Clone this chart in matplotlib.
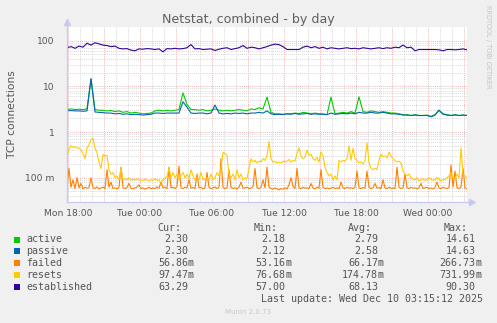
import numpy as np
import matplotlib
matplotlib.use('Agg')
import matplotlib.pyplot as plt
from matplotlib.patches import Rectangle

# temps en heures apres Mon 18:00 (echantillons 10 min / 20 min, fin Wed 03:15)
t10 = np.arange(201) / 6.0 - 1 / 12.0
t20 = np.arange(101) / 3.0 - 1 / 12.0

tick_hours = [0, 6, 12, 18, 24, 30]
tick_labels = ['Mon 18:00', 'Tue 00:00', 'Tue 06:00', 'Tue 12:00', 'Tue 18:00', 'Wed 00:00']

active = [3.1, 3.2, 3.1, 3.15, 3.1, 3.2, 14.6, 3.1, 3.0, 3.0,
          2.9, 2.95, 2.8, 2.9, 2.7, 2.8, 2.6, 2.7, 2.6, 2.5,
          2.55, 2.6, 2.9, 3.0, 2.9, 3.0, 2.9, 3.0, 3.1, 7.2,
          4.0, 3.1, 3.1, 3.0, 3.1, 2.9, 3.0, 3.2, 3.0, 2.9,
          3.0, 2.9, 3.0, 3.1, 3.0, 2.9, 3.2, 3.1, 3.4, 3.2,
          5.8, 2.7, 2.5, 2.5, 2.45, 2.5, 2.5, 2.6, 2.5, 2.7,
          2.6, 2.5, 2.6, 2.5, 2.5, 2.4, 5.8, 2.5, 2.6, 2.7,
          2.6, 2.8, 2.6, 5.9, 2.8, 2.7, 2.9, 2.8, 2.7, 2.8,
          2.7, 2.6, 2.6, 2.5, 2.4, 2.4, 2.3, 2.4, 2.3, 2.3,
          2.35, 2.2, 2.4, 3.0, 2.5, 2.4, 2.3, 2.4, 2.3, 2.35,
          2.3]

passive = [2.9, 2.95, 2.9, 2.9, 2.85, 2.9, 14.6, 2.75, 2.7, 2.65,
           2.6, 2.6, 2.5, 2.55, 2.45, 2.5, 2.4, 2.45, 2.4, 2.35,
           2.4, 2.45, 2.6, 2.6, 2.55, 2.6, 2.6, 2.6, 2.6, 4.6,
           3.5, 2.6, 2.55, 2.6, 2.6, 2.5, 2.6, 3.9, 2.6, 2.5,
           2.55, 2.5, 2.6, 2.55, 2.6, 2.5, 2.6, 2.6, 2.7, 2.6,
           2.9, 2.5, 2.4, 2.45, 2.4, 2.5, 2.45, 2.55, 2.45, 2.5,
           2.55, 2.45, 2.5, 2.45, 2.45, 2.4, 2.6, 2.45, 2.5, 2.55,
           2.5, 2.6, 2.5, 2.7, 2.6, 2.6, 2.7, 2.6, 2.6, 2.7,
           2.6, 2.5, 2.5, 2.45, 2.35, 2.35, 2.3, 2.35, 2.3, 2.3,
           2.3, 2.15, 2.35, 3.0, 2.45, 2.35, 2.3, 2.35, 2.3, 2.35,
           2.3]

failed = [0.060, 0.160, 0.062, 0.090, 0.058, 0.100, 0.060, 0.075, 0.057, 0.062,
          0.059, 0.061, 0.100, 0.060, 0.058, 0.063, 0.057, 0.060, 0.062, 0.058,
          0.150, 0.062, 0.080, 0.058, 0.060, 0.057, 0.062, 0.170, 0.060, 0.058,
          0.061, 0.075, 0.059, 0.057, 0.060, 0.062, 0.070, 0.058, 0.060, 0.056,
          0.059, 0.062, 0.057, 0.060, 0.058, 0.063, 0.059, 0.080, 0.060, 0.062,
          0.058, 0.170, 0.060, 0.062, 0.058, 0.064, 0.180, 0.060, 0.058, 0.062,
          0.060, 0.090, 0.059, 0.061, 0.058, 0.120, 0.060, 0.062, 0.057, 0.060,
          0.130, 0.062, 0.058, 0.060, 0.063, 0.058, 0.061, 0.260, 0.062, 0.058,
          0.060, 0.150, 0.062, 0.058, 0.060, 0.057, 0.062, 0.080, 0.059, 0.060,
          0.062, 0.058, 0.060, 0.063, 0.160, 0.060, 0.058, 0.062, 0.090, 0.060,
          0.170, 0.062, 0.058, 0.056, 0.060, 0.057, 0.054, 0.058, 0.056, 0.060,
          0.057, 0.070, 0.100, 0.065, 0.058, 0.160, 0.060, 0.058, 0.062, 0.059,
          0.060, 0.058, 0.075, 0.060, 0.057, 0.062, 0.059, 0.150, 0.062, 0.058,
          0.060, 0.057, 0.059, 0.062, 0.058, 0.060, 0.057, 0.080, 0.060, 0.058,
          0.062, 0.059, 0.060, 0.058, 0.062, 0.140, 0.060, 0.058, 0.061, 0.059,
          0.140, 0.062, 0.058, 0.060, 0.075, 0.059, 0.061, 0.058, 0.090, 0.060,
          0.058, 0.062, 0.059, 0.060, 0.058, 0.170, 0.062, 0.058, 0.060, 0.120,
          0.060, 0.058, 0.062, 0.059, 0.060, 0.057, 0.061, 0.075, 0.058, 0.060,
          0.062, 0.058, 0.060, 0.057, 0.061, 0.080, 0.059, 0.058, 0.062, 0.060,
          0.058, 0.061, 0.190, 0.062, 0.140, 0.060, 0.058, 0.062, 0.160, 0.060,
          0.057]

resets = [0.30, 0.42, 0.50, 0.46, 0.48, 0.44, 0.45, 0.40, 0.34, 0.26,
          0.45, 0.52, 0.68, 0.73, 0.45, 0.35, 0.22, 0.16, 0.32, 0.30,
          0.31, 0.15, 0.12, 0.13, 0.10, 0.11, 0.09, 0.16, 0.09, 0.095,
          0.09, 0.10, 0.088, 0.092, 0.09, 0.095, 0.088, 0.09, 0.087, 0.092,
          0.09, 0.085, 0.09, 0.088, 0.095, 0.088, 0.09, 0.077, 0.09, 0.095,
          0.11, 0.16, 0.10, 0.13, 0.10, 0.12, 0.09, 0.11, 0.13, 0.10,
          0.12, 0.095, 0.15, 0.11, 0.09, 0.10, 0.09, 0.13, 0.09, 0.095,
          0.10, 0.09, 0.12, 0.09, 0.10, 0.13, 0.11, 0.16, 0.36, 0.34,
          0.30, 0.12, 0.10, 0.12, 0.09, 0.15, 0.10, 0.12, 0.09, 0.10,
          0.095, 0.16, 0.26, 0.22, 0.24, 0.21, 0.23, 0.22, 0.26, 0.24,
          0.30, 0.62, 0.26, 0.22, 0.23, 0.21, 0.22, 0.21, 0.23, 0.22,
          0.23, 0.25, 0.22, 0.24, 0.23, 0.34, 0.45, 0.30, 0.26, 0.28,
          0.40, 0.31, 0.33, 0.26, 0.24, 0.28, 0.22, 0.36, 0.30, 0.17,
          0.13, 0.11, 0.12, 0.09, 0.11, 0.09, 0.24, 0.22, 0.24, 0.23,
          0.26, 0.50, 0.24, 0.44, 0.26, 0.24, 0.21, 0.22, 0.20, 0.24,
          0.58, 0.22, 0.16, 0.15, 0.16, 0.15, 0.24, 0.33, 0.29, 0.30,
          0.27, 0.36, 0.30, 0.26, 0.24, 0.22, 0.23, 0.21, 0.14, 0.12,
          0.11, 0.12, 0.10, 0.095, 0.09, 0.10, 0.085, 0.09, 0.095, 0.088,
          0.09, 0.10, 0.092, 0.088, 0.09, 0.10, 0.095, 0.085, 0.09, 0.092,
          0.10, 0.11, 0.13, 0.10, 0.095, 0.12, 0.10, 0.45, 0.12, 0.11,
          0.097]

established = [70, 74, 68, 76, 72, 88, 80, 90, 85, 80,
               78, 74, 76, 68, 66, 67, 62, 60, 66, 65,
               67, 66, 64, 66, 57, 67, 66, 68, 66, 67,
               70, 82, 66, 67, 64, 65, 66, 61, 65, 68,
               70, 64, 67, 70, 78, 68, 72, 70, 66, 70,
               74, 80, 84, 82, 74, 64, 64, 64, 64, 72,
               76, 70, 74, 68, 72, 66, 70, 68, 66, 68,
               70, 67, 68, 66, 70, 68, 66, 68, 70, 67,
               70, 68, 72, 70, 80, 70, 72, 60, 64, 64,
               64, 64, 64, 63, 60, 64, 64, 63, 64, 66,
               63]

names = ['active', 'passive', 'failed', 'resets', 'established']
colors = ['#00CC00', '#0066B3', '#FF8000', '#FFCC00', '#330099']
cur = ['2.30', '2.30', '56.86m', '97.47m', '63.29']
mins = ['2.18', '2.12', '53.16m', '76.68m', '57.00']
avgs = ['2.79', '2.58', '66.17m', '174.78m', '68.13']
maxs = ['14.61', '14.63', '266.73m', '731.99m', '90.30']

W, H = 497.0, 323.0
def fx(x):
    return x / W
def fy(y):
    return 1 - y / H

fig = plt.figure(figsize=(4.97, 3.23), dpi=100, facecolor='#F0F0F0')
ax = fig.add_axes([fx(67), fy(202), 400 / W, 175 / H])
ax.set_facecolor('white')
ax.set_yscale('log')
ax.set_xlim(-1 / 12.0, 33.25)
ax.set_ylim(0.0294, 199)

# grille : gris toutes les heures / sous-decades, rouge toutes les 3h / decades
dots = (0, (1, 1.3))
for h in range(0, 34):
    c = '#eeaaaa' if h % 3 == 0 else '#d2d2d2'
    ax.axvline(h, color=c, lw=0.65, ls=dots, zorder=1)
for dec in [0.01, 0.1, 1, 10, 100]:
    for k in range(1, 10):
        v = dec * k
        if v < 0.0294 or v > 199:
            continue
        c = '#eeaaaa' if k == 1 else '#d2d2d2'
        ax.axhline(v, color=c, lw=0.65, ls=dots, zorder=1)

series = [(t20, active), (t20, passive), (t10, failed), (t10, resets), (t20, established)]
for (t, vals), col in zip(series, colors):
    ax.plot(t, vals, color=col, lw=0.8, zorder=3)

for s in ax.spines.values():
    s.set_visible(False)
ax.tick_params(length=0, colors='#555555', labelsize=6.6)
ax.tick_params(axis='y', pad=9)
ax.tick_params(axis='x', pad=5)
ax.set_yticks([0.1, 1, 10, 100])
ax.set_yticklabels(['100 m', '1', '10', '100'])
ax.set_yticks([], minor=True)
ax.set_xticks(tick_hours)
ax.set_xticklabels(tick_labels)

# axes avec fleches
acol = '#c8c8f4'
ax.plot([0, 1.008], [0, 0], transform=ax.transAxes, color=acol, lw=0.9, clip_on=False, zorder=4)
ax.plot([0, 0], [0, 1.02], transform=ax.transAxes, color=acol, lw=0.9, clip_on=False, zorder=4)
ax.plot([1.012], [0], transform=ax.transAxes, marker='>', ms=4, color=acol, clip_on=False)
ax.plot([0], [1.03], transform=ax.transAxes, marker='^', ms=4, color=acol, clip_on=False)

fig.text(fx(248), fy(19), 'Netstat, combined - by day', ha='center', va='center',
         fontsize=9.1, color='#606060')
fig.text(fx(12), fy(114), 'TCP connections', rotation=90, ha='center', va='center',
         fontsize=7.7, color='#555555')
fig.text(fx(488), fy(5), 'RRDTOOL / TOBI OETIKER', rotation=270, ha='center', va='top',
         fontsize=4.7, color='#c4c4c4')

# legende
mono = dict(family='DejaVu Sans Mono', fontsize=7.2, color='#555555', va='center')
for x, lab in [(181, 'Cur:'), (278, 'Min:'), (372, 'Avg:'), (468, 'Max:')]:
    fig.text(fx(x), fy(228), lab, ha='right', **mono)
cols = [188, 285.5, 378, 475.5]
for i, name in enumerate(names):
    y = 239.5 + 11.9 * i
    fig.add_artist(Rectangle((fx(14), fy(y + 3)), 6 / W, 6 / H, facecolor=colors[i],
                             edgecolor='none', transform=fig.transFigure))
    fig.text(fx(26), fy(y), name, ha='left', **mono)
    for x, vals in zip(cols, [cur, mins, avgs, maxs]):
        v = vals[i]
        num = v.rstrip('m')
        fig.text(fx(x), fy(y), num, ha='right', **mono)
        if v.endswith('m'):
            fig.text(fx(x), fy(y), 'm', ha='left', **mono)

fig.text(fx(483), fy(299.5), 'Last update: Wed Dec 10 03:15:12 2025', ha='right', **mono)
fig.text(fx(248), fy(312), 'Munin 2.0.73', ha='center', va='center', fontsize=5,
         color='#c8c8c8')

fig.savefig('out.png', dpi=100, facecolor=fig.get_facecolor())
